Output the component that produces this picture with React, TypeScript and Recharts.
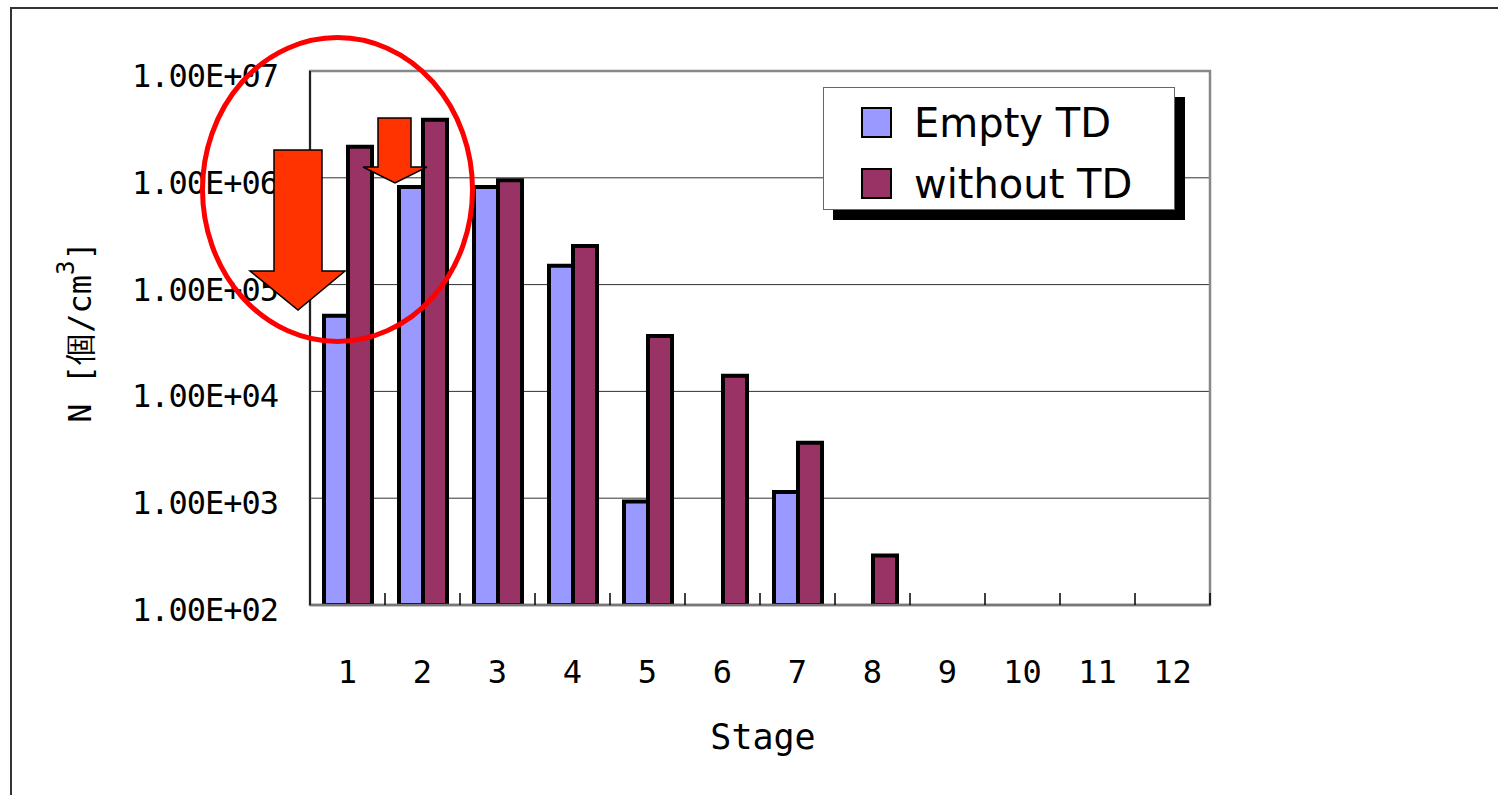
import React from 'react';
import {
  BarChart,
  Bar,
  XAxis,
  YAxis,
  CartesianGrid,
  Legend,
  ReferenceArea,
} from 'recharts';

// Stage number (category axis)
const stages = ['1', '2', '3', '4', '5', '6', '7', '8', '9', '10', '11', '12'];

// N [個/cm3]; null = no bar
const emptyTD = [5.1e4, 8.2e5, 8.2e5, 1.5e5, 930, null, 1140, null, null, null, null, null];
const withoutTD = [1.95e6, 3.5e6, 9.5e5, 2.3e5, 3.3e4, 1.4e4, 3300, 290, null, null, null, null];

const yTicks = [1e2, 1e3, 1e4, 1e5, 1e6, 1e7];

const SERIES = [
  { key: 'empty', name: 'Empty TD', color: '#9999FF' },
  { key: 'without', name: 'without TD', color: '#993366' },
];

const W = 1498;
const H = 795;
const MARGIN = { top: 71, right: 288, bottom: 160, left: 130 };
const Y_AXIS_W = 180;
const PLOT_W = W - MARGIN.left - Y_AXIS_W - MARGIN.right;
const BAND = PLOT_W / stages.length;

const MONO = '"DejaVu Sans Mono", monospace';

const data = stages.map((s, i) => ({
  stage: s,
  empty: emptyTD[i],
  without: withoutTD[i],
}));

// 1e7 -> "1.00E+07"
const fmtSci = (v: number) => {
  const exp = Math.round(Math.log10(v));
  const mant = v / Math.pow(10, exp);
  return `${mant.toFixed(2)}E+${String(exp).padStart(2, '0')}`;
};

function XTick(props: any) {
  const { x, y, payload } = props;
  const bx = x + BAND / 2; // tick marks sit between categories
  return (
    <g>
      <line x1={bx} y1={y} x2={bx} y2={y - 12} stroke="#000" strokeWidth={1.5} />
      <text
        x={x}
        y={y + 67}
        textAnchor="middle"
        dominantBaseline="central"
        fontFamily={MONO}
        fontSize={32}
        fill="#000"
      >
        {payload.value}
      </text>
    </g>
  );
}

function YTick(props: any) {
  const { x, y, payload } = props;
  return (
    <text
      x={x}
      y={y + 5}
      textAnchor="end"
      dominantBaseline="central"
      fontFamily={MONO}
      fontSize={32}
      letterSpacing={-1}
      fill="#000"
    >
      {fmtSci(payload.value)}
    </text>
  );
}

function LegendBox() {
  return (
    <div
      style={{
        width: 352,
        height: 123,
        background: '#fff',
        border: '1.5px solid #666',
        boxShadow: '10px 10px 0 #000',
        boxSizing: 'border-box',
        paddingTop: 4,
        paddingLeft: 37,
      }}
    >
      {SERIES.map((s) => (
        <div
          key={s.key}
          style={{ display: 'flex', alignItems: 'center', height: 61 }}
        >
          <div
            style={{
              width: 27,
              height: 27,
              background: s.color,
              border: '2px solid #000',
              marginRight: 22,
              flexShrink: 0,
            }}
          />
          <span
            style={{
              fontFamily: '"DejaVu Sans", sans-serif',
              fontSize: 40,
              color: '#000',
              lineHeight: 1,
              whiteSpace: 'nowrap',
            }}
          >
            {s.name}
          </span>
        </div>
      ))}
    </div>
  );
}

export default function App() {
  return (
    <div style={{ position: 'absolute', left: 0, top: 0, width: W, height: H, background: '#fff' }}>
      {/* outer chart border (only left and top visible in the crop) */}
      <div
        style={{
          position: 'absolute',
          left: 10,
          top: 7,
          width: W,
          height: H,
          borderLeft: '2px solid #333',
          borderTop: '2px solid #333',
        }}
      />
      <div style={{ position: 'absolute', left: 0, top: 0 }}>
        <BarChart
          width={W}
          height={H}
          data={data}
          margin={MARGIN}
          barGap={0}
          barSize={24}
        >
          <ReferenceArea
            x1="1"
            x2="12"
            y1={1e2}
            y2={1e7}
            fill="none"
            stroke="#888"
            strokeWidth={2.5}
            ifOverflow="extendDomain"
          />
          <CartesianGrid vertical={false} stroke="#333" strokeWidth={1} />
          <XAxis
            dataKey="stage"
            tickSize={0}
            tickMargin={0}
            tickLine={false}
            axisLine={{ stroke: '#777', strokeWidth: 2.5 }}
            tick={<XTick />}
            interval={0}
            label={{
              content: (p: any) => {
                const vb = p.viewBox;
                return (
                  <text
                    x={vb.x + vb.width / 2 + 3}
                    y={vb.y + 132}
                    textAnchor="middle"
                    dominantBaseline="central"
                    fontFamily={MONO}
                    fontSize={35}
                    fill="#000"
                  >
                    Stage
                  </text>
                );
              },
            }}
          />
          <YAxis
            width={Y_AXIS_W}
            scale="log"
            domain={[1e2, 1e7]}
            allowDataOverflow
            ticks={yTicks}
            tickLine={false}
            tickSize={0}
            tickMargin={32}
            axisLine={{ stroke: '#000', strokeWidth: 1.5 }}
            tick={<YTick />}
            label={{
              content: (p: any) => {
                const vb = p.viewBox;
                const cx = vb.x - 50;
                const cy = vb.y + vb.height / 2 - 6;
                return (
                  <text
                    x={cx}
                    y={cy}
                    transform={`rotate(-90 ${cx} ${cy})`}
                    textAnchor="middle"
                    dominantBaseline="central"
                    fontFamily={MONO}
                    fontSize={32}
                    fill="#000"
                  >
                    N [個/cm
                    <tspan dy={-14} fontSize={24}>3</tspan>
                    <tspan dy={14}>]</tspan>
                  </text>
                );
              },
            }}
          />
          <Legend
            layout="vertical"
            align="center"
            verticalAlign="middle"
            wrapperStyle={{ position: 'absolute', left: 823, top: 87, width: 352, height: 123 }}
            content={() => <LegendBox />}
          />
          {SERIES.map((s) => (
            <Bar
              key={s.key}
              dataKey={s.key}
              name={s.name}
              fill={s.color}
              stroke="#000"
              strokeWidth={4}
              isAnimationActive={false}
            />
          ))}
        </BarChart>
      </div>
      {/* annotation: red circle and arrows over stages 1-2 */}
      <svg
        width={W}
        height={H}
        style={{ position: 'absolute', left: 0, top: 0, pointerEvents: 'none' }}
      >
        <polygon
          points="274,150 322,150 322,271 345,271 298,310 250,271 274,271"
          fill="#ff3300"
          stroke="#000"
          strokeWidth={1.5}
        />
        <polygon
          points="378,118 411,118 411,167 427,167 395,183 363,167 378,167"
          fill="#ff3300"
          stroke="#000"
          strokeWidth={1.5}
        />
        <ellipse cx={337.5} cy={189.5} rx={135} ry={152} fill="none" stroke="#ff0000" strokeWidth={5} />
      </svg>
    </div>
  );
}
